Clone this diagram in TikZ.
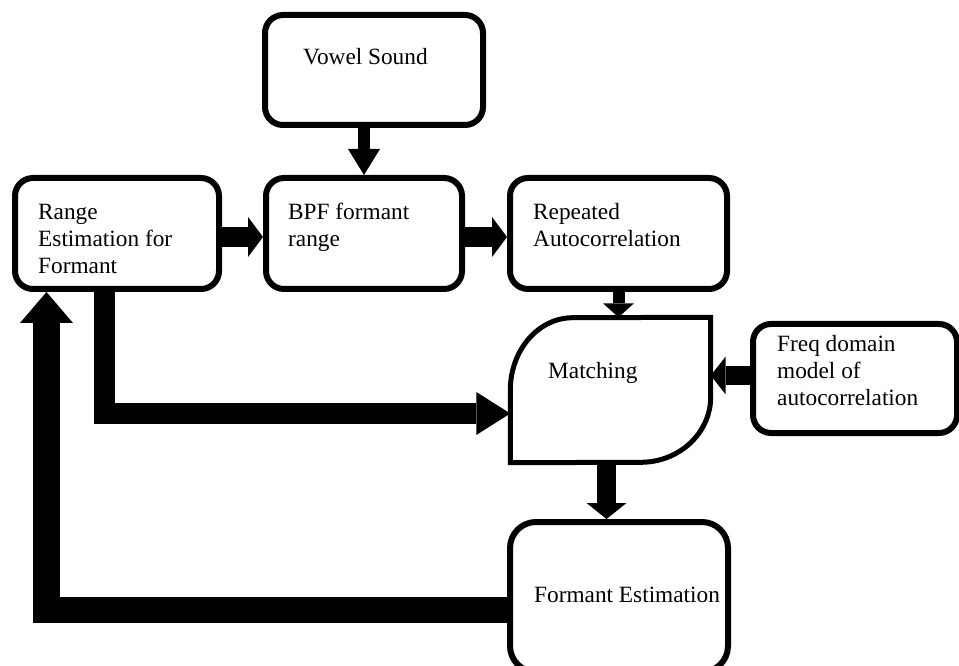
\documentclass[tikz,border=0pt]{standalone}
\usepackage{fontspec}
\setmainfont{Liberation Serif}
\usetikzlibrary{arrows.meta}
\tikzset{
  box/.style={draw=black, line width=6pt, rounded corners=18pt, inner sep=0pt, fill=white},
  txt/.style={inner sep=0pt, align=left, font=\fontsize{23.3pt}{27.3pt}\selectfont},
  blk/.style={line width=#1, line join=miter},
  hd/.style n args={2}{-{Triangle[length=#1,width=#2,line width=0pt]}}
}
\begin{document}
\begin{tikzpicture}[x=1pt,y=1pt]
\useasboundingbox (0,0) rectangle (959,665);
\begin{scope}
\clip (0,0) rectangle (959,665);
% boxes
\node[box, minimum width=218pt, minimum height=110pt] (v) at (374,595) {};
\node[box, minimum width=204pt, minimum height=111pt] (r) at (117,431.5) {};
\node[box, minimum width=196pt, minimum height=111pt] (b) at (364,431.5) {};
\node[box, minimum width=217pt, minimum height=111pt] (a) at (618.5,431.5) {};
\node[box, minimum width=204pt, minimum height=109pt] (f) at (855,286.5) {};
\node[box, rounded corners=26pt, minimum width=218pt, minimum height=150pt] (e) at (619,68) {};
\node[inner sep=0pt, minimum width=200pt, minimum height=145pt] (m) at (610.5,275) {};
\draw[line width=5pt, line join=miter, fill=white] (m.south west) -- ++(0,72.5)
  arc[start angle=180, end angle=90, x radius=62.5, y radius=72.5]
  -- (m.north east) -- ++(0,-79.5)
  arc[start angle=0, end angle=-90, x radius=70, y radius=65.5] -- cycle;
% texts
\node[txt, anchor=base west] (vt) at (303,600) {Vowel Sound};
\node[txt, anchor=north west] (rt) at (38,465.1) {\strut Range\\Estimation for\\Formant};
\node[txt, anchor=north west] (bt) at (288,465.1) {\strut BPF formant\\range};
\node[txt, anchor=north west] (at) at (533,465.1) {\strut Repeated\\Autocorrelation};
\node[txt, anchor=north west] (ft) at (777,333.1) {\strut Freq domain\\model of\\autocorrelation};
\node[txt, anchor=base west] (mt) at (548,286) {Matching};
\node[txt, anchor=base west] (et) at (534,63) {Formant Estimation};
% connectors
\draw[blk=12pt, hd={26pt}{32pt}] (v.south -| b.north) -- (b.north);
\draw[blk=20pt, hd={15pt}{40pt}] ([yshift=-3.5pt]r.east) -- ([yshift=-3.5pt]b.west);
\draw[blk=20pt, hd={15pt}{40pt}] ([yshift=-3.5pt]b.east) -- ([yshift=-3.5pt]a.west);
\draw[blk=12pt, hd={14pt}{31pt}] (a.south) -- (a.south |- m.north);
\draw[blk=19pt, hd={15pt}{38pt}] ([yshift=3pt]f.west) -- ([yshift=3pt]f.west -| m.east);
\draw[blk=21pt, hd={34pt}{43pt}] ([xshift=-12.5pt]r.south) |- ([yshift=-23.5pt]m.west);
\draw[blk=19pt, hd={16pt}{40pt}] ([xshift=-4pt]m.south) -- ([xshift=-4pt]m.south |- e.north);
\draw[blk=26.5pt, hd={31pt}{53pt}] ([yshift=-13pt]e.west) -| ([xshift=-70.5pt]r.south);
\end{scope}
\end{tikzpicture}
\end{document}
